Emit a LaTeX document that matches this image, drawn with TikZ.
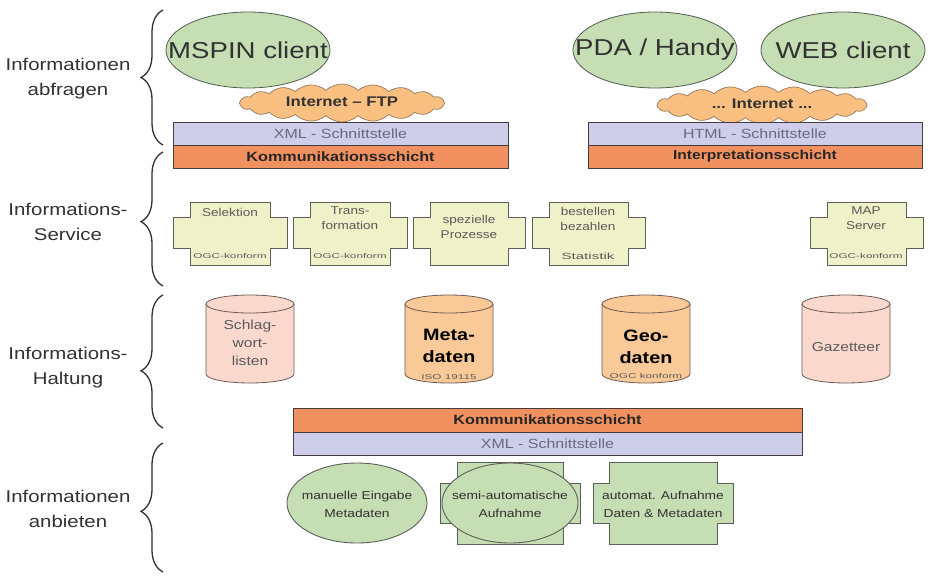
\documentclass[tikz,border=0pt]{standalone}
\usepackage{fontspec}
\usepackage{graphicx}
\setmainfont[FakeStretch=1.2]{Liberation Sans}
\usetikzlibrary{shapes.geometric,shapes.symbols,decorations.pathreplacing}

\definecolor{clientgreen}{RGB}{198,222,180}
\definecolor{ellline}{RGB}{80,95,80}
\definecolor{cloudorange}{RGB}{250,192,130}
\definecolor{cloudline}{RGB}{150,120,90}
\definecolor{lavender}{RGB}{206,206,234}
\definecolor{barorange}{RGB}{241,145,96}
\definecolor{barline}{RGB}{70,60,60}
\definecolor{servicefill}{RGB}{239,242,200}
\definecolor{boxline}{RGB}{95,95,90}
\definecolor{pinkdb}{RGB}{250,216,206}
\definecolor{orangedb}{RGB}{250,201,152}
\definecolor{dbline}{RGB}{110,90,85}
\definecolor{textdark}{RGB}{50,50,50}
\definecolor{textgray}{RGB}{90,90,90}
\definecolor{xmltext}{RGB}{105,105,125}

% notched box: #1 left, #2 right, #3 inset, #4 top, #5 bottom, #6 tab top, #7 tab bottom, #8 style
\newcommand\notchbox[8]{%
  \draw[#8] (#1,#6) -- ({#1+#3},#6) -- ({#1+#3},#4) -- ({#2-#3},#4) -- ({#2-#3},#6)
    -- (#2,#6) -- (#2,#7) -- ({#2-#3},#7) -- ({#2-#3},#5) -- ({#1+#3},#5)
    -- ({#1+#3},#7) -- (#1,#7) -- cycle;}

% database cylinder: #1 centre x, #2 fill colour
\newcommand\dbcyl[2]{%
  \filldraw[fill=#2, draw=dbline, line width=0.8pt]
    ({#1-44},304) -- ({#1-44},374) arc[start angle=180, end angle=0, x radius=44, y radius=9]
    -- ({#1+44},304) arc[start angle=0, end angle=-180, x radius=44, y radius=9] -- cycle;
  \draw[draw=dbline, line width=0.8pt]
    ({#1-44},304) arc[start angle=180, end angle=0, x radius=44, y radius=9];}

\newcommand\tinytext[1]{\scalebox{1.4}[1]{\fontsize{7}{8}\selectfont #1}}

\begin{document}
\begin{tikzpicture}[x=1pt, y=-1pt,
  layerlabel/.style={align=center, text=textdark, font=\fontsize{17}{25}\selectfont},
  bracestyle/.style={draw=textdark, line width=1.3pt, decorate,
    decoration={brace, amplitude=22, aspect=#1}},
  client/.style={ellipse, draw=ellline, fill=clientgreen, line width=0.8pt,
    minimum width=164, minimum height=76, inner sep=0pt},
  clienttext/.style={text=textdark, inner sep=0pt, font=\fontsize{23}{26}\selectfont},
  netcloud/.style={cloud, cloud puffs=20, cloud puff arc=85, aspect=5.6,
    draw=cloudline, fill=cloudorange, line width=0.7pt, inner sep=0pt,
    minimum width=205, minimum height=38},
  cloudtext/.style={text=textdark, inner sep=0pt, font=\bfseries\fontsize{14}{16}\selectfont},
  bar/.style={rectangle, draw=barline, line width=0.8pt, inner sep=0pt, minimum height=23},
  xmlbar/.style={bar, fill=lavender, text=xmltext, font=\fontsize{13.3}{15}\selectfont},
  kommbar/.style={bar, fill=barorange, text=black!85, font=\bfseries\fontsize{13.5}{15}\selectfont},
  servicebox/.style={fill=servicefill, draw=boxline, line width=0.9pt},
  servicetext/.style={align=center, text=textgray, inner sep=0pt, font=\fontsize{11.3}{15}\selectfont},
  dbtext/.style={align=center, text=textgray, inner sep=0pt, font=\fontsize{13}{18}\selectfont},
  dbbold/.style={align=center, text=black, inner sep=0pt, font=\bfseries\fontsize{16.5}{22}\selectfont},
  offerfill/.style={fill=clientgreen, draw=boxline, line width=0.9pt},
  offertext/.style={align=center, text=textdark, inner sep=0pt, font=\fontsize{11.5}{18}\selectfont}
]
\useasboundingbox (0,0) rectangle (929,576);
\fill[white] (0,0) rectangle (929,576);

% ---- layer labels and braces
\node[layerlabel] (lab1) at (68,79) {Informationen\\abfragen};
\node[layerlabel] (lab2) at (68,222) {Informations-\\Service};
\node[layerlabel] (lab3) at (68,368) {Informations-\\Haltung};
\node[layerlabel] (lab4) at (68,509) {Informationen\\anbieten};

\coordinate (b1s) at (163,145); \coordinate (b1e) at (163,10);
\coordinate (b2s) at (163,286); \coordinate (b2e) at (163,152);
\coordinate (b3s) at (163,428); \coordinate (b3e) at (163,295);
\coordinate (b4s) at (163,572); \coordinate (b4e) at (163,443);
\draw[bracestyle=0.5] (b1s) -- (b1e);
\draw[bracestyle=0.48] (b2s) -- (b2e);
\draw[bracestyle=0.43] (b3s) -- (b3e);
\draw[bracestyle=0.47] (b4s) -- (b4e);

% ---- query layer
\node[client] (mspin) at (248,50) {};
\node[clienttext] (mspint) at (248,50) {MSPIN client};
\node[client] (pda) at (655,50) {};
\node[clienttext] (pdat) at (655,50) {PDA / Handy};
\node[client] (web) at (843,50) {};
\node[clienttext] (webt) at (843,50) {WEB client};

\node[netcloud] (ftp) at (342,103) {};
\node[cloudtext] (ftpt) at (342,102) {Internet -- FTP};
\node[netcloud, minimum width=210] (inet) at (762,105) {};
\node[cloudtext] (inett) at (762,104) {... Internet ...};

\node[xmlbar, minimum width=335] (xml1) at (340.5,133.5) {XML - Schnittstelle};
\node[kommbar, minimum width=335] (komm1) at (340.5,156.5) {Kommunikationsschicht};
\node[xmlbar, minimum width=334] (html) at (755,133.5) {HTML - Schnittstelle};
\node[kommbar, minimum width=334, font=\bfseries\fontsize{13}{15}\selectfont] (interp) at (755,156.5) {Interpretationsschicht};

% ---- service layer
\notchbox{173}{287}{17}{202}{265}{217}{248}{servicebox}
\notchbox{293}{407}{17}{202}{265}{217}{248}{servicebox}
\notchbox{413}{525}{17}{202}{265}{217}{248}{servicebox}
\notchbox{532}{645}{17}{202}{265}{217}{248}{servicebox}
\notchbox{810}{923}{17}{202}{265}{217}{248}{servicebox}

\node[servicetext] (sel) at (230,212) {Selektion};
\node[servicetext] (selc) at (230,256) {\tinytext{OGC-konform}};
\node[servicetext] (trans) at (350,218) {Trans-\\formation};
\node[servicetext] (transc) at (350,256) {\tinytext{OGC-konform}};
\node[servicetext] (spez) at (469,227) {spezielle\\Prozesse};
\node[servicetext] (best) at (588,219) {bestellen\\bezahlen};
\node[servicetext] (stat) at (588,256) {\scalebox{1.4}[1]{\fontsize{9}{10}\selectfont Statistik}};
\node[servicetext] (map) at (866,218) {MAP\\Server};
\node[servicetext] (mapc) at (866,256) {\tinytext{OGC-konform}};

% ---- data layer
\dbcyl{250}{pinkdb}
\dbcyl{449}{orangedb}
\dbcyl{646}{orangedb}
\dbcyl{846}{pinkdb}

\node[dbtext] (schlag) at (250,343) {Schlag-\\wort-\\listen};
\node[dbbold] (meta) at (449,346) {Meta-\\daten};
\node[dbtext] (iso) at (449,377) {\tinytext{ISO 19115}};
\node[dbbold] (geo) at (646,347) {Geo-\\daten};
\node[dbtext] (geoc) at (646,376) {\tinytext{OGC konform}};
\node[dbtext] (gaz) at (846,347) {Gazetteer};

% ---- provider layer
\node[kommbar, minimum width=509, minimum height=24] (komm2) at (547.5,420) {Kommunikationsschicht};
\node[xmlbar, minimum width=509] (xml2) at (547.5,443.5) {XML - Schnittstelle};

\node[ellipse, offerfill, minimum width=140, minimum height=80, inner sep=0pt] (manu) at (357,503) {};
\node[offertext] (manut) at (357,504) {manuelle Eingabe\\Metadaten};

\notchbox{440}{580}{17}{462}{544}{483}{523}{offerfill}
\node[ellipse, offerfill, minimum width=136, minimum height=80, inner sep=0pt] (semi) at (510,503) {};
\node[offertext] (semit) at (510,504) {semi-automatische\\Aufnahme};

\notchbox{593}{733}{16}{462}{544}{483}{523}{offerfill}
\node[offertext] (auto) at (663,504) {automat. Aufnahme\\Daten \& Metadaten};
\end{tikzpicture}
\end{document}
